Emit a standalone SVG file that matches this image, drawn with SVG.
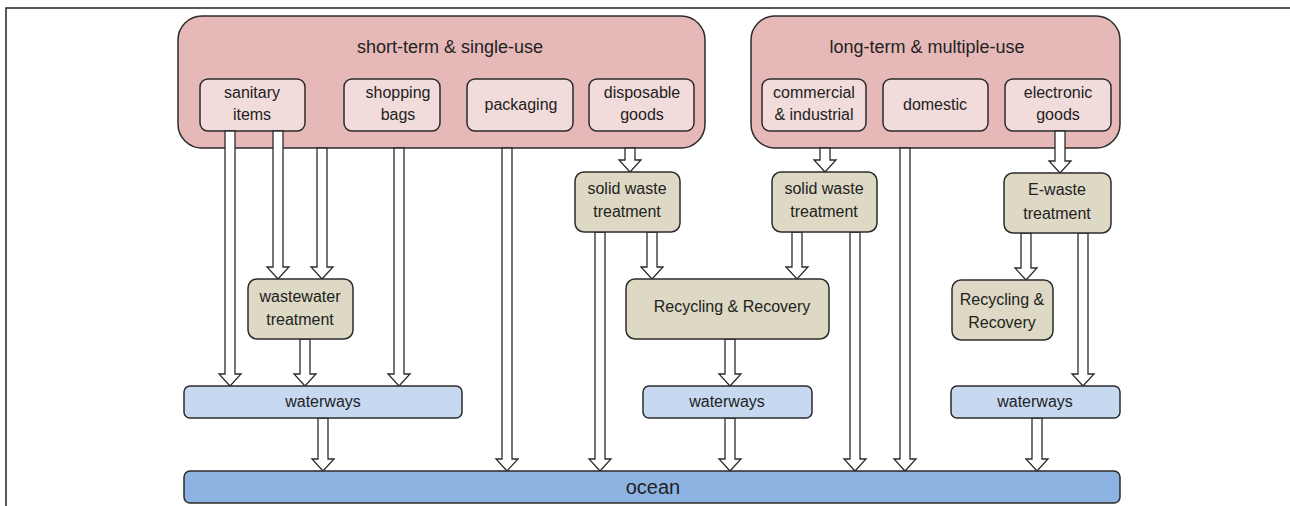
<svg xmlns="http://www.w3.org/2000/svg" width="1290" height="506" viewBox="0 0 1290 506">
<style>
text{font-family:"Liberation Sans",Arial,sans-serif;fill:#222;text-anchor:middle;font-size:16px}
.big{fill:#e6b9b8;stroke:#2b2b2b;stroke-width:1.5}
.sub{fill:#f2dcdb;stroke:#2b2b2b;stroke-width:1.5}
.trt{fill:#ddd9c4;stroke:#2b2b2b;stroke-width:1.5}
.ww{fill:#c6d9f1;stroke:#2b2b2b;stroke-width:1.5}
.oc{fill:#8db3e2;stroke:#2b2b2b;stroke-width:1.5}
.ar{fill:#fff;stroke:#2b2b2b;stroke-width:1.3;stroke-linejoin:miter}
.t18{font-size:18px}
.t20{font-size:20px}
</style>
<rect width="1290" height="506" fill="#fff"/>
<path d="M6,506 V8 H1290" fill="none" stroke="#222" stroke-width="1.5"/>
<g id="short-term">
<rect class="big" x="178" y="16" width="527" height="132" rx="24"/>
<text class="t18" x="450" y="53">short-term &amp; single-use</text>
</g>
<g id="long-term">
<rect class="big" x="751" y="16" width="369" height="132" rx="24"/>
<text class="t18" x="927" y="53">long-term &amp; multiple-use</text>
</g>
<g id="sanitary-items">
<rect class="sub" x="200" y="79" width="105" height="52" rx="8"/>
<text x="252" y="98">sanitary</text><text x="252" y="120">items</text>
</g>
<g id="shopping-bags">
<rect class="sub" x="344" y="79" width="96" height="52" rx="8"/>
<text x="398" y="98">shopping</text><text x="398" y="120">bags</text>
</g>
<g id="packaging">
<rect class="sub" x="467" y="79" width="106" height="52" rx="8"/>
<text x="521" y="110">packaging</text>
</g>
<g id="disposable-goods">
<rect class="sub" x="589" y="79" width="105" height="52" rx="8"/>
<text x="642" y="98">disposable</text><text x="642" y="120">goods</text>
</g>
<g id="commercial-industrial">
<rect class="sub" x="762" y="79" width="104" height="52" rx="8"/>
<text x="814" y="98">commercial</text><text x="814" y="120">&amp; industrial</text>
</g>
<g id="domestic">
<rect class="sub" x="883" y="79" width="105" height="52" rx="8"/>
<text x="935" y="110">domestic</text>
</g>
<g id="electronic-goods">
<rect class="sub" x="1005" y="79" width="106" height="52" rx="8"/>
<text x="1058" y="98">electronic</text><text x="1058" y="120">goods</text>
</g>
<g id="connectors">
<polygon class="ar" points="225,131 235,131 235,374 241,374 230,386 219,374 225,374"/>
<polygon class="ar" points="273,131 283,131 283,267 289,267 278,279 267,267 273,267"/>
<polygon class="ar" points="317,148 327,148 327,267 333,267 322,279 311,267 317,267"/>
<polygon class="ar" points="394,148 404,148 404,374 410,374 399,386 388,374 394,374"/>
<polygon class="ar" points="502,148 512,148 512,459 518,459 507,471 496,459 502,459"/>
<polygon class="ar" points="625,148 635,148 635,160 641,160 630,172 619,160 625,160"/>
<polygon class="ar" points="595,232 605,232 605,459 611,459 600,471 589,459 595,459"/>
<polygon class="ar" points="647,232 657,232 657,267 663,267 652,279 641,267 647,267"/>
<polygon class="ar" points="820,148 830,148 830,160 836,160 825,172 814,160 820,160"/>
<polygon class="ar" points="792,232 802,232 802,267 808,267 797,279 786,267 792,267"/>
<polygon class="ar" points="850,232 860,232 860,459 866,459 855,471 844,459 850,459"/>
<polygon class="ar" points="900,148 910,148 910,459 916,459 905,471 894,459 900,459"/>
<polygon class="ar" points="1055,131 1065,131 1065,161 1071,161 1060,173 1049,161 1055,161"/>
<polygon class="ar" points="1021,233 1031,233 1031,268 1037,268 1026,280 1015,268 1021,268"/>
<polygon class="ar" points="1078,233 1088,233 1088,374 1094,374 1083,386 1072,374 1078,374"/>
<polygon class="ar" points="300,339 310,339 310,374 316,374 305,386 294,374 300,374"/>
<polygon class="ar" points="725,339 735,339 735,374 741,374 730,386 719,374 725,374"/>
<polygon class="ar" points="318,418 328,418 328,459 334,459 323,471 312,459 318,459"/>
<polygon class="ar" points="725,418 735,418 735,459 741,459 730,471 719,459 725,459"/>
<polygon class="ar" points="1032,418 1042,418 1042,459 1048,459 1037,471 1026,459 1032,459"/>
</g>
<g id="solid-waste-1">
<rect class="trt" x="575" y="172" width="105" height="60" rx="9"/>
<text x="627" y="194">solid waste</text><text x="627" y="217">treatment</text>
</g>
<g id="solid-waste-2">
<rect class="trt" x="772" y="172" width="105" height="60" rx="9"/>
<text x="824" y="194">solid waste</text><text x="824" y="217">treatment</text>
</g>
<g id="e-waste">
<rect class="trt" x="1004" y="173" width="107" height="60" rx="9"/>
<text x="1057" y="195">E-waste</text><text x="1057" y="219">treatment</text>
</g>
<g id="wastewater">
<rect class="trt" x="248" y="279" width="105" height="60" rx="9"/>
<text x="300" y="302">wastewater</text><text x="300" y="325">treatment</text>
</g>
<g id="recycling-1">
<rect class="trt" x="626" y="279" width="203" height="60" rx="9"/>
<text x="732" y="312">Recycling &amp; Recovery</text>
</g>
<g id="recycling-2">
<rect class="trt" x="952" y="280" width="101" height="60" rx="9"/>
<text x="1002" y="305">Recycling &amp;</text><text x="1002" y="328">Recovery</text>
</g>
<g id="waterways-1">
<rect class="ww" x="184" y="386" width="278" height="32" rx="6"/>
<text x="323" y="407">waterways</text>
</g>
<g id="waterways-2">
<rect class="ww" x="643" y="386" width="169" height="32" rx="6"/>
<text x="727" y="407">waterways</text>
</g>
<g id="waterways-3">
<rect class="ww" x="951" y="386" width="169" height="32" rx="6"/>
<text x="1035" y="407">waterways</text>
</g>
<g id="ocean">
<rect class="oc" x="184" y="471" width="936" height="32" rx="6"/>
<text class="t20" x="653" y="494">ocean</text>
</g>
</svg>
